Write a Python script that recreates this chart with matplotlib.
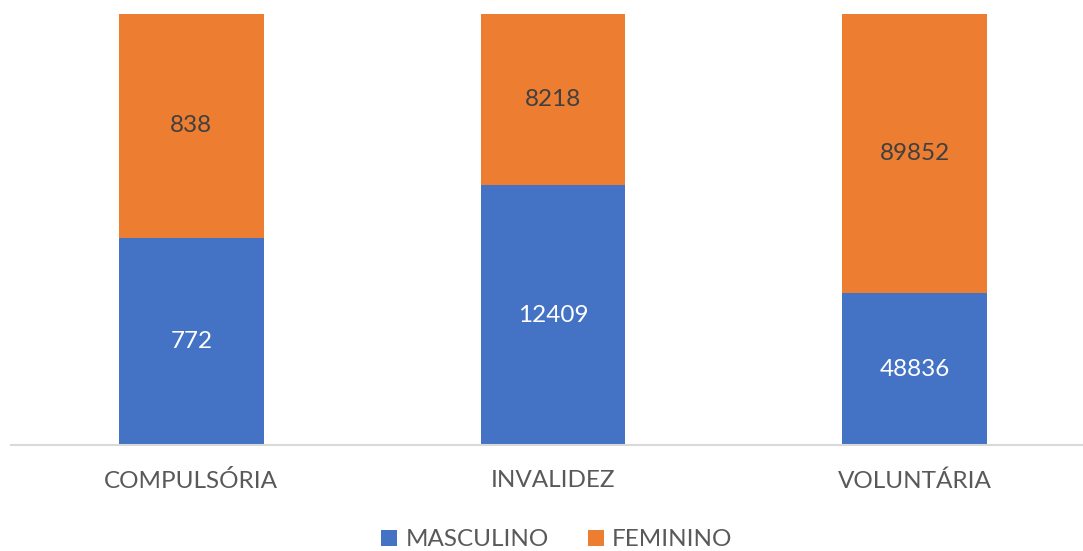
import matplotlib.pyplot as plt
import numpy as np

plt.rcParams['font.family'] = ['Lato', 'DejaVu Sans']

categorias = ['COMPULSÓRIA', 'INVALIDEZ', 'VOLUNTÁRIA']
masculino = np.array([772, 12409, 48836])
feminino = np.array([838, 8218, 89852])

total = masculino + feminino
masc_pct = masculino / total
fem_pct = feminino / total

azul = '#4472C4'
laranja = '#ED7D31'

fig = plt.figure(figsize=(10.83, 5.51), dpi=100)
# eixo um pouco além da borda direita, como no original
ax = fig.add_axes([10.5 / 1083, 106 / 551, 1085 / 1083, (445 - 13.5) / 551])

x = np.arange(len(categorias))
ax.bar(x, masc_pct, width=0.4, color=azul, label='MASCULINO', zorder=2)
ax.bar(x, fem_pct, width=0.4, bottom=masc_pct, color=laranja, label='FEMININO', zorder=2)

for xi, m, f, mp, fp in zip(x, masculino, feminino, masc_pct, fem_pct):
    ax.text(xi, mp / 2, str(m), ha='center', va='center', color='white', fontsize=17.5)
    ax.text(xi, mp + fp / 2, str(f), ha='center', va='center', color='#404040', fontsize=17.5)

ax.set_xlim(-0.5, 2.5)
ax.set_ylim(0, 1)
ax.set_yticks([])
ax.set_xticks(x)
ax.set_xticklabels(categorias, fontsize=17.5, color='#595959')
ax.tick_params(axis='x', length=0, pad=18)
for s in ['top', 'right', 'left']:
    ax.spines[s].set_visible(False)
ax.spines['bottom'].set_color('#D9D9D9')
ax.spines['bottom'].set_linewidth(1.5)
ax.spines['bottom'].set_zorder(3)

fig.legend(loc='center', bbox_to_anchor=(557 / 1083, 1 - 540 / 551), ncol=2, frameon=False,
           fontsize=17.5, handlelength=0.65, handleheight=0.65, handletextpad=0.35,
           columnspacing=1.6, labelcolor='#595959')

fig.savefig('out.png', dpi=100)
